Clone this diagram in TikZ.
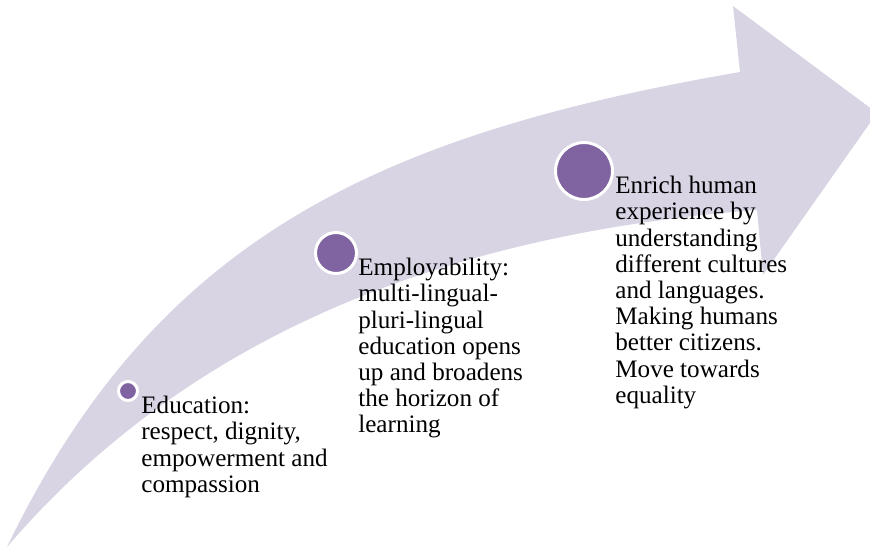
\documentclass[tikz,border=0pt]{standalone}
\usepackage{fontspec}
\setmainfont{Liberation Serif}
\usepackage{xcolor}
\usepackage{tikz}
\usetikzlibrary{positioning}
\definecolor{band}{HTML}{D8D4E4}
\definecolor{plum}{HTML}{8064A2}
\tikzset{
  dot/.style={circle,fill=plum,draw=white,line width=0.06cm,inner sep=0pt},
  blurb/.style={anchor=north west,inner sep=0pt,align=left,font=\fontsize{14.3}{14.9}\selectfont}
}

\begin{document}
\begin{tikzpicture}[x=0.02cm,y=-0.02cm]
\useasboundingbox (0,0) rectangle (870,550);
\clip (0,0) rectangle (870,550);
% the rising arrow
\fill[band] (7,547) .. controls (155,240) and (375,135) .. (740,72) -- (733,6) -- (877,113)
  -- (763,275) -- (757,210) .. controls (430,235) and (180,345) .. (7,547) -- cycle;
% milestones
\node[dot,minimum size=0.38cm] (d1) at (128,391) {};
\node[dot,minimum size=0.82cm] (d2) at (336,253) {};
\node[dot,minimum size=1.14cm] (d3) at (584,171) {};
\node[blurb] (t1) at (141,396) {Education:\\respect, dignity,\\empowerment and\\compassion};
\node[blurb] (t2) at (358,258) {Employability:\\multi-lingual-\\pluri-lingual\\education opens\\up and broadens\\the horizon of\\learning};
\node[blurb] (t3) at (615,176) {Enrich human\\experience by\\understanding\\different cultures\\and languages.\\Making humans\\better citizens.\\Move towards\\equality};
\end{tikzpicture}
\end{document}
